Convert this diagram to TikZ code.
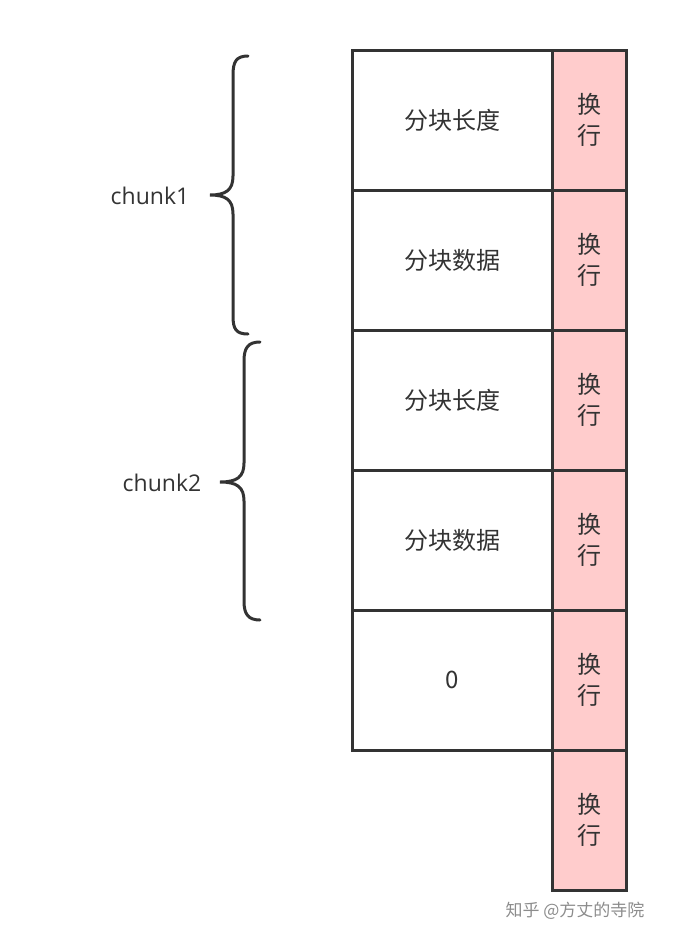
\documentclass[tikz,border=0pt]{standalone}
\usepackage{fontspec}
\setmainfont{Open Sans}
\newfontfamily\cjk{Noto Sans CJK SC}
\definecolor{pinkcell}{HTML}{FFCCCC}
\definecolor{linegray}{HTML}{333333}
\begin{document}
\begin{tikzpicture}[x=1pt,y=-1pt,line width=3pt,draw=linegray]
    \tikzstyle{cell}=[draw=linegray,line width=3pt,minimum width=200pt,minimum height=140pt,inner sep=0pt,font=\cjk\fontsize{24}{28}\selectfont,text=linegray]
    \tikzstyle{wrap}=[cell,fill=pinkcell,minimum width=74pt,align=center,font=\cjk\fontsize{24}{31}\selectfont]
    \tikzstyle{label}=[font=\fontsize{23}{26}\selectfont,text=linegray]
    \useasboundingbox (0,0) rectangle (676,940);

    % left column
    \foreach \name / \txt [count=\i] in {a/分块长度,b/分块数据,c/分块长度,d/分块数据,e/0}
        \node[cell] (L-\i) at (452,{120+140*(\i-1)}) {\txt};
    % right column
    \foreach \i in {1,...,6}
        \node[wrap] (R-\i) at (589,{120+140*(\i-1)}) {换\\行};

    % braces
    \draw[line cap=round] (248,56) .. controls (236,56) and (233,62) .. (233,75)
        -- (233,176) .. controls (233,190) and (226,195) .. (210,195)
        .. controls (226,195) and (233,200) .. (233,214)
        -- (233,316) .. controls (233,329) and (236,334) .. (248,334);
    \draw[line cap=round] (260,342) .. controls (248,342) and (244,348) .. (244,361)
        -- (244,463) .. controls (244,477) and (237,482) .. (220,482)
        .. controls (237,482) and (244,487) .. (244,501)
        -- (244,601) .. controls (244,614) and (248,620) .. (260,620);
    \node[label] (chunk1) at (150,196) {chunk1};
    \node[label] (chunk2) at (162,483) {chunk2};

    \node[font=\cjk\fontsize{17}{20}\selectfont,text=black!45] (mark) at (575,911) {知乎 @方丈的寺院};
\end{tikzpicture}
\end{document}
